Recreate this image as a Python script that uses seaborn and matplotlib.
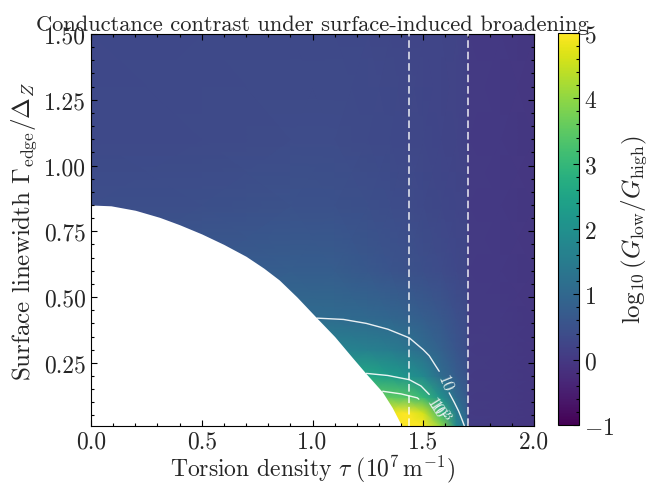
import numpy as np
import matplotlib
matplotlib.use("Agg")
import matplotlib.pyplot as plt
import seaborn as sns
from matplotlib.ticker import MultipleLocator, FormatStrFormatter

# ---------------- data ----------------
# grid of the field  log10(G_low/G_high)
tau_grid = [0.0, 0.5, 0.9, 1.1, 1.25, 1.35, 1.42, 1.5, 1.58, 1.65, 1.695, 1.705, 1.85, 2.0]
gamma_grid = [0.01, 0.06, 0.12, 0.2, 0.3, 0.42, 0.6, 0.85, 1.1, 1.5]
row_g001 = [6.50, 6.50, 6.50, 6.50, 6.50, 6.50, 6.50, 6.00, 4.00, 1.80, 1.10, 0.06, 0.02, -0.05]
row_g006 = [5.00, 5.00, 5.00, 5.00, 5.00, 4.80, 5.20, 4.60, 3.00, 1.50, 0.90, 0.05, 0.01, -0.05]
row_g012 = [3.60, 3.60, 3.60, 3.60, 3.60, 3.50, 3.40, 3.00, 2.00, 1.05, 0.70, 0.05, 0.01, -0.05]
row_g020 = [2.60, 2.60, 2.60, 2.60, 2.60, 2.30, 2.10, 1.80, 1.10, 0.75, 0.55, 0.04, 0.01, -0.05]
row_g030 = [1.60, 1.65, 1.70, 1.70, 1.60, 1.50, 1.35, 1.10, 0.85, 0.58, 0.44, 0.04, 0.01, -0.05]
row_g042 = [1.00, 1.05, 1.10, 1.08, 1.02, 0.95, 0.88, 0.76, 0.62, 0.46, 0.36, 0.03, 0.01, -0.05]
row_g060 = [0.66, 0.70, 0.78, 0.74, 0.64, 0.57, 0.52, 0.45, 0.38, 0.31, 0.27, 0.03, 0.00, -0.05]
row_g085 = [0.42, 0.45, 0.50, 0.48, 0.43, 0.39, 0.36, 0.32, 0.28, 0.24, 0.22, 0.02, 0.00, -0.05]
row_g110 = [0.33, 0.35, 0.38, 0.37, 0.34, 0.32, 0.30, 0.27, 0.24, 0.21, 0.19, 0.02, 0.00, -0.05]
row_g150 = [0.30, 0.32, 0.33, 0.32, 0.30, 0.28, 0.26, 0.24, 0.22, 0.20, 0.18, 0.02, 0.00, -0.05]

# boundary of the undefined (white) region
tau_boundary = [0.0, 0.09, 0.2, 0.31, 0.4, 0.5, 0.6, 0.7, 0.78, 0.85, 0.93, 1.02,
                1.1, 1.18, 1.243, 1.315, 1.36, 1.40, 1.42]
gamma_boundary = [0.85, 0.847, 0.83, 0.803, 0.775, 0.74, 0.70, 0.655, 0.61, 0.565, 0.50, 0.42,
                  0.35, 0.27, 0.208, 0.14, 0.08, 0.015, 0.0]

# contour lines, split where labels sit
c10_a_tau = [1.02, 1.14, 1.243, 1.34, 1.437, 1.50, 1.527, 1.555, 1.572]
c10_a_gam = [0.42, 0.415, 0.40, 0.378, 0.345, 0.30, 0.277, 0.24, 0.218]
c10_b_tau = [1.617, 1.64, 1.66, 1.677, 1.685]
c10_b_gam = [0.136, 0.10, 0.066, 0.03, 0.012]
c100_tau = [1.243, 1.34, 1.437, 1.49, 1.527]
c100_gam = [0.21, 0.202, 0.186, 0.162, 0.13]
c1000_tau = [1.317, 1.40, 1.473, 1.48]
c1000_gam = [0.142, 0.132, 0.117, 0.112]
contour_labels = ["10", "$10^2$", "$10^3$"]
label_tau = [1.597, 1.563, 1.575]
label_gam = [0.172, 0.082, 0.070]

vlines_tau = [1.437, 1.70]

title = "Conductance contrast under surface-induced broadening"
xlabel = r"Torsion density $\tau\ (10^7\,\mathrm{m}^{-1})$"
ylabel = r"Surface linewidth $\Gamma_{\rm edge}/\Delta_Z$"
cbar_label = r"$\log_{10}(G_{\rm low}/G_{\rm high})$"

# ---------------- styling ----------------
sns.set_style("ticks")
plt.rcParams.update({
    "font.family": ["cmr10"],
    "mathtext.fontset": "cm",
    "axes.formatter.use_mathtext": True,
    "font.size": 14,
    "axes.linewidth": 0.8,
    "axes.unicode_minus": True,
    "axes.edgecolor": "black",
    "axes.axisbelow": False,
})

fig = plt.figure(figsize=(6.52, 4.85), dpi=100)
ax = fig.add_axes([91 / 652, (485 - 427) / 485, (534 - 91) / 652, (427 - 35) / 485])
cax = fig.add_axes([558 / 652, (485 - 426) / 485, 21 / 652, (426 - 34) / 485])
ax.set_axisbelow(False)

T, G = np.meshgrid(np.array(tau_grid), np.array(gamma_grid))
Z = np.array([row_g001, row_g006, row_g012, row_g020, row_g030,
              row_g042, row_g060, row_g085, row_g110, row_g150])
mesh = ax.pcolormesh(T, G, Z, cmap="viridis", vmin=-1, vmax=5,
                     shading="gouraud", rasterized=True, zorder=1)

ax.fill_between(tau_boundary, 0, gamma_boundary, color="white", lw=0, zorder=2)

for xs, ys in [(c10_a_tau, c10_a_gam), (c10_b_tau, c10_b_gam),
               (c100_tau, c100_gam), (c1000_tau, c1000_gam)]:
    sns.lineplot(x=xs, y=ys, ax=ax, sort=False, estimator=None,
                 color="white", lw=1.0, alpha=0.9, zorder=3)

rots = [-68, -58, -58]
for lab, tx, ty, r in zip(contour_labels, label_tau, label_gam, rots):
    ax.text(tx, ty, lab, color="#e6f0ee", fontsize=12, rotation=r,
            ha="center", va="center", zorder=4)

for xv in vlines_tau:
    ax.axvline(xv, color="white", ls=(0, (5, 2.5)), lw=1.1, alpha=0.9, zorder=3)

ax.set_xlim(0, 2.0)
ax.set_ylim(0.01, 1.5)
ax.xaxis.set_major_locator(MultipleLocator(0.5))
ax.xaxis.set_minor_locator(MultipleLocator(0.1))
ax.yaxis.set_major_locator(MultipleLocator(0.25))
ax.yaxis.set_minor_locator(MultipleLocator(0.05))
ax.xaxis.set_major_formatter(FormatStrFormatter("%.1f"))
ax.yaxis.set_major_formatter(FormatStrFormatter("%.2f"))
ax.tick_params(which="both", direction="in", top=True, right=True,
               color="black", width=0.8, labelsize=17)
ax.tick_params(which="major", length=4.5)
ax.tick_params(which="minor", length=2.5)
ax.set_xlabel(xlabel, fontsize=17, labelpad=0)
ax.set_ylabel(ylabel, fontsize=18, labelpad=4)
ax.set_title(title, fontsize=16.2, pad=1)

cb = fig.colorbar(mesh, cax=cax)
cb.ax.set_axisbelow(False)
cb.set_ticks([-1, 0, 1, 2, 3, 4, 5])
cb.ax.yaxis.set_minor_locator(MultipleLocator(0.2))
cb.ax.tick_params(which="both", direction="in", left=False, right=True,
                  color="black", width=0.8, labelsize=17)
cb.ax.tick_params(which="major", length=4.5)
cb.ax.tick_params(which="minor", length=2.5)
cb.outline.set_linewidth(0.8)
cb.set_label(cbar_label, fontsize=18, labelpad=4)

fig.savefig("out.png", dpi=100)
